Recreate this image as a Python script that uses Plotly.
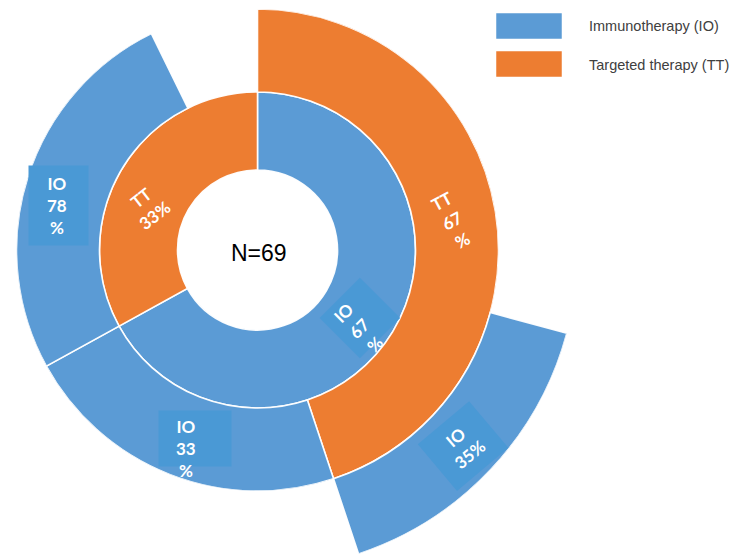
import math
import plotly.graph_objects as go

# ---------------- data ----------------
n_patients = 69
first_line_names = ["IO", "TT"]
first_line_pct = [67, 33]
# second line, grouped under the first-line parent
second_line_parent = ["IO", "IO", "TT"]
second_line_names = ["TT", "IO", "IO"]
second_line_pct = [67, 33, 78]
# third line (under IO -> TT)
third_line_parent = ["IO>TT"]
third_line_names = ["IO"]
third_line_pct = [35]
legend_names = ["Immunotherapy (IO)", "Targeted therapy (TT)"]

# ---------------- style ----------------
W, H = 746, 555
CX, CY = 257.5, 250               # pixel centre of the rings
RADII = [80, 158, 241, 326]       # ring boundaries in px
COLORS = {"IO": "#5B9BD5", "TT": "#ED7D31"}
BOX_BLUE = "#4A99D5"
SEP = "rgba(255,255,255,0.95)"
LABEL_FONT = dict(family="Lato, Open Sans, sans-serif", size=17, color="white", weight="bold")

# ---------------- geometry from data ----------------
segs = []  # (level, name, pct, start, span, key)
start = 0.0
l1 = {}
for nm, p in zip(first_line_names, first_line_pct):
    span = p / 100 * 360
    segs.append((0, nm, p, start, span, nm))
    l1[nm] = (start, span)
    start += span

cursor = {k: v[0] for k, v in l1.items()}
l2 = {}
for par, nm, p in zip(second_line_parent, second_line_names, second_line_pct):
    span = p / 100 * l1[par][1]
    s = cursor[par]
    segs.append((1, nm, p, s, span, par + ">" + nm))
    l2[par + ">" + nm] = (s, span)
    cursor[par] += span

for par, nm, p in zip(third_line_parent, third_line_names, third_line_pct):
    ps, pspan = l2[par]
    span = p / 100 * pspan
    s = ps + pspan - span          # aligned to the end of its parent
    segs.append((2, nm, p, s, span, par + ">" + nm))

fig = go.Figure()
R = RADII[2]

# ---- rings 1 and 2 on the main (full circle) polar subplot ----
for lvl in range(2):
    ss = [s for s in segs if s[0] == lvl]
    fig.add_trace(go.Barpolar(
        theta=[s[3] + s[4] / 2 for s in ss],
        width=[s[4] for s in ss],
        base=[RADII[lvl]] * len(ss),
        r=[RADII[lvl + 1] - RADII[lvl]] * len(ss),
        marker=dict(color=[COLORS[s[1]] for s in ss], line=dict(color=SEP, width=1.6)),
        showlegend=False, hoverinfo="skip", subplot="polar",
    ))

# ---- ring 3 on a second polar subplot limited to a sector (so it can exceed ring 2) ----
ss3 = [s for s in segs if s[0] == 2]
a_start = min(s[3] for s in ss3) - 0.3
a_end = max(s[3] + s[4] for s in ss3) + 0.3
sector = [90 - a_end, 90 - a_start]          # screen angles, ccw from east


def sector_bbox(sec):
    angs = [sec[0], sec[1]]
    k = math.ceil(sec[0] / 90) * 90
    while k < sec[1]:
        angs.append(k)
        k += 90
    xs = [math.cos(math.radians(a)) for a in angs] + [0]
    ys = [math.sin(math.radians(a)) for a in angs] + [0]
    return min(xs), min(ys), max(xs), max(ys)


bx0, by0, bx1, by1 = sector_bbox(sector)
R3 = min(RADII[3], (H - CY - 0.5) / -by0 if by0 < 0 else RADII[3])
fig.add_trace(go.Barpolar(
    theta=[s[3] + s[4] / 2 for s in ss3],
    width=[s[4] for s in ss3],
    base=[RADII[2]] * len(ss3),
    r=[R3 - RADII[2]] * len(ss3),
    marker=dict(color=[COLORS[s[1]] for s in ss3], line=dict(color=SEP, width=1.6)),
    showlegend=False, hoverinfo="skip", subplot="polar2",
))

hidden_ang = dict(visible=False, rotation=90, direction="clockwise")
fig.update_layout(
    width=W, height=H, margin=dict(l=0, r=0, t=0, b=0),
    paper_bgcolor="white", plot_bgcolor="white",
    polar=dict(
        domain=dict(x=[(CX - R) / W, (CX + R) / W], y=[1 - (CY + R) / H, 1 - (CY - R) / H]),
        bgcolor="rgba(0,0,0,0)",
        radialaxis=dict(visible=False, range=[0, R]),
        angularaxis=hidden_ang,
    ),
    polar2=dict(
        sector=sector,
        domain=dict(x=[(CX + R3 * bx0) / W, (CX + R3 * bx1) / W],
                    y=[1 - (CY - R3 * by0) / H, 1 - (CY - R3 * by1) / H]),
        bgcolor="rgba(0,0,0,0)",
        radialaxis=dict(visible=False, range=[0, R3]),
        angularaxis=hidden_ang,
    ),
    bargap=0,
)


def to_px(theta, r):
    a = math.radians(theta)
    return CX + r * math.sin(a), CY - r * math.cos(a)


def px2paper(x, y):
    return x / W, 1 - y / H


# label styling per segment (order of segs)
label_shift = [7, -9, 0.7, -1.7, -5, 0.3]
label_r = [128, 118, 197, 211, 205, 284]
label_angle = [-45, -38, -28, 0, 0, -40]
label_split = [True, False, True, True, True, False]
# box behind label: (dx, dy from label centre in px, width, height)
label_box = [(1, -10, 56, 56), None, None, (9, -10, 72, 55), (1, 0, 59, 79), (0, 0, 66, 60)]

texts = []
for i, s in enumerate(segs):
    lvl, nm, p, st, sp, key = s
    txt = f"{nm}<br>{p}<br>%" if label_split[i] else f"{nm}<br>{p}%"
    px, py = to_px(st + sp / 2 + label_shift[i], label_r[i])
    if label_box[i] is not None:
        dx, dy, bw, bh = label_box[i]
        bxp, byp = px2paper(px + dx, py + dy)
        fig.add_annotation(x=bxp, y=byp, xref="paper", yref="paper", text=" ",
                           showarrow=False, textangle=label_angle[i], bgcolor=BOX_BLUE,
                           width=bw, height=bh, borderpad=0, font=dict(size=2),
                           xanchor="center", yanchor="middle")
    texts.append((px, py, txt, label_angle[i]))

for px, py, txt, ang in texts:
    x, y = px2paper(px, py)
    fig.add_annotation(x=x, y=y, xref="paper", yref="paper", text=txt, showarrow=False,
                       textangle=ang, font=LABEL_FONT, align="center",
                       xanchor="center", yanchor="middle")

fig.add_annotation(x=(CX + 1) / W, y=1 - (CY + 3) / H, xref="paper", yref="paper",
                   text=f"N={n_patients}", showarrow=False,
                   font=dict(family="Liberation Sans, Arial", size=23, color="black"))

# legend (drawn manually: large swatches)
for i, (nm, key) in enumerate(zip(legend_names, ["IO", "TT"])):
    y0 = 13 + i * 38
    fig.add_shape(type="rect", xref="paper", yref="paper",
                  x0=496 / W, x1=562 / W, y0=1 - (y0 + 26) / H, y1=1 - y0 / H,
                  fillcolor=COLORS[key], line=dict(color="rgba(255,255,255,0.5)", width=1))
    fig.add_annotation(x=587 / W, y=1 - (y0 + 13.5) / H, xref="paper", yref="paper",
                       text=nm, showarrow=False, xanchor="left", yanchor="middle",
                       font=dict(family="Liberation Sans, Arial", size=14.5, color="#404040"))

fig.write_html("out.html")
